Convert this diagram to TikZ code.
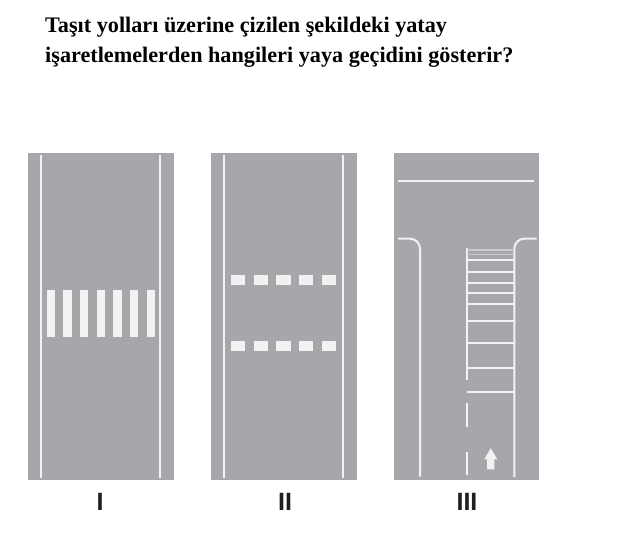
\documentclass[tikz,border=0pt]{standalone}
\usepackage{fontspec}
\setmainfont{Liberation Serif}
\newfontfamily\numfont{Liberation Sans}
\definecolor{roadgray}{HTML}{A6A7AA}
\definecolor{paintwhite}{HTML}{F2F2F2}
\definecolor{fadewhite}{HTML}{C9CACC}
\definecolor{inkblack}{HTML}{1E1E1E}
\begin{document}
\begin{tikzpicture}[x=1pt,y=-1pt,
        road/.style={fill=roadgray},
        paint/.style={draw=paintwhite,line width=2pt},
        faint/.style={draw=fadewhite,line width=1.6pt},
        block/.style={fill=paintwhite},
        question/.style={anchor=base west,inner sep=0pt,font=\bfseries\fontsize{22.2}{22.2}\selectfont},
        roman/.style={inner sep=0pt,text=inkblack,font=\numfont\bfseries\fontsize{25}{25}\selectfont}]
        \useasboundingbox (0,0) rectangle (622,552);
        % soru metni
        \node[question] (line1) at (45,32) {Taşıt yolları üzerine çizilen şekildeki yatay};
        \node[question] (line2) at (45,62) {işaretlemelerden hangileri yaya geçidini gösterir?};
        % I
        \fill[road] (27.5,153) rectangle (174,480);
        \draw[paint] (40.7,155)--(40.7,478) (160,155)--(160,478);
        \foreach \i in {0,...,6}
            \fill[block] ({46.7+16.65*\i},290) rectangle ++(8.3,46.7);
        % II
        \fill[road] (211,153) rectangle (356.7,480);
        \draw[paint] (224,155)--(224,478) (343.3,155)--(343.3,478);
        \foreach \i in {0,...,4} {
            \fill[block] ({230.7+22.8*\i},275) rectangle ++(14.2,10);
            \fill[block] ({230.7+22.8*\i},340.5) rectangle ++(14.2,10);
        }
        % III
        \fill[road] (394,153.3) rectangle (539.3,480);
        \draw[paint] (398.3,181)--(534,181);
        \draw[paint] (398,238.7)--(410,238.7) arc[start angle=270,end angle=360,radius=10] --(420,476.7);
        \draw[paint] (536.7,238.7)--(524.3,238.7) arc[start angle=270,end angle=180,radius=10] --(514.3,477);
        \draw[paint] (466.7,248.3)--(466.7,379.5) (466.7,403.3)--(466.7,426.7) (466.7,451.7)--(466.7,475);
        \foreach \y in {250,254.5}
            \draw[faint] (466.7,\y)--(514.3,\y);
        \foreach \y in {260,271.7,282.7,293.3,304.3,321,343.3,368.3,392.3}
            \draw[paint] (466.7,\y)--(514.3,\y);
        \fill[block] (490.7,448.3)--(497.3,459.3)--(494.3,459.3)--(494.3,469.3)
            --(487,469.3)--(487,459.3)--(484.3,459.3)--cycle;
        % etiketler
        \node[roman] (one) at (100,502) {I};
        \node[roman] (two) at (285,502) {II};
        \node[roman] (three) at (467,502) {III};
    \end{tikzpicture}
\end{document}
